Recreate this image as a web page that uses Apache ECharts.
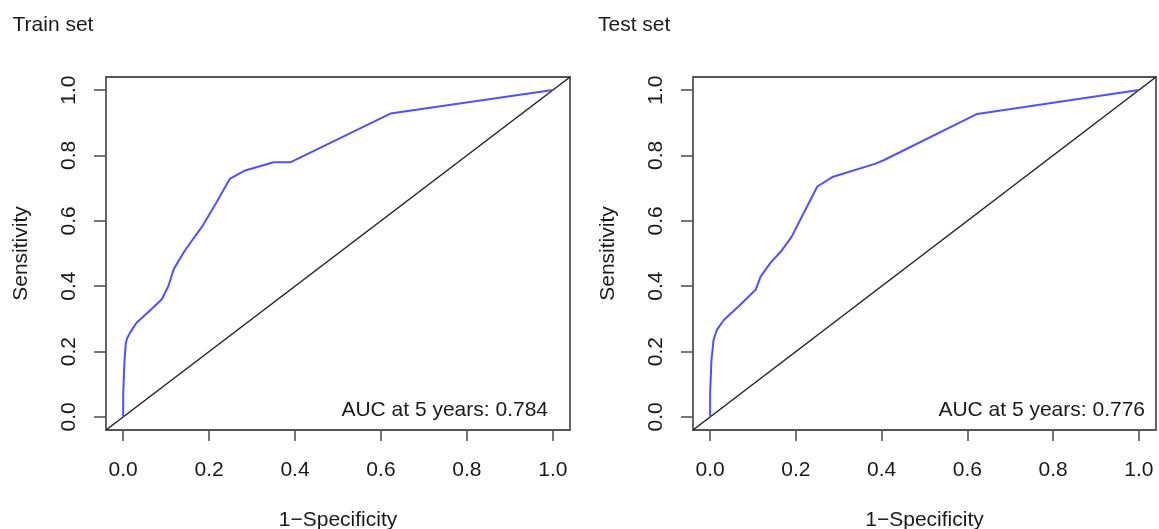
<!DOCTYPE html>
<html>
<head>
<meta charset="utf-8">
<script src="https://cdn.jsdelivr.net/npm/echarts@6/dist/echarts.min.js"></script>
<style>
html,body{margin:0;padding:0;background:#fff;}
#chart{width:1159px;height:529px;}
</style>
</head>
<body>
<div id="chart"></div>
<script>
// ---- data ----
const panelTitles = ['Train set', 'Test set'];
const aucLabels = ['AUC at 5 years: 0.784', 'AUC at 5 years: 0.776'];
const xAxisName = '1\u2212Specificity';
const yAxisName = 'Sensitivity';
const tickValues = [0, 0.2, 0.4, 0.6, 0.8, 1.0];

const trainFPR = [0, 0, 0.003, 0.006, 0.009, 0.016, 0.031, 0.058, 0.090, 0.105, 0.118, 0.144, 0.186, 0.218, 0.248, 0.284, 0.350, 0.389, 0.622, 1];
const trainTPR = [0, 0.07, 0.17, 0.225, 0.240, 0.258, 0.288, 0.320, 0.360, 0.400, 0.453, 0.510, 0.587, 0.658, 0.728, 0.754, 0.779, 0.779, 0.928, 1];

const testFPR = [0, 0, 0.003, 0.008, 0.016, 0.033, 0.068, 0.106, 0.118, 0.141, 0.165, 0.190, 0.212, 0.250, 0.287, 0.386, 0.406, 0.623, 1];
const testTPR = [0, 0.072, 0.173, 0.236, 0.267, 0.298, 0.340, 0.389, 0.430, 0.472, 0.506, 0.551, 0.608, 0.705, 0.735, 0.775, 0.786, 0.927, 1];

const diagLine = [-0.04, 1.04];   // y = x reference line across the plot region

// ---- build ----
const zip = (a, b) => a.map((v, i) => [v, b[i]]);
const FONT = 'Liberation Sans, Arial, sans-serif';
const FS = 21;
const TXT = '#1a1a1a';

function xAx(gi) {
  return {
    type: 'value', gridIndex: gi, min: -0.04, max: 1.04,
    name: xAxisName, nameLocation: 'middle', nameGap: 80,
    nameTextStyle: {fontFamily: FONT, fontSize: FS, color: TXT},
    axisLine: {show: false, onZero: false},
    axisTick: {show: true, customValues: tickValues, length: 11, inside: false,
               lineStyle: {color: '#555', width: 1.6}},
    axisLabel: {show: true, customValues: tickValues, margin: 30,
                fontFamily: FONT, fontSize: FS, color: TXT,
                formatter: v => v.toFixed(1)},
    splitLine: {show: false}
  };
}
function yAx(gi) {
  return {
    type: 'value', gridIndex: gi, min: -0.04, max: 1.04,
    name: yAxisName, nameLocation: 'middle', nameGap: 74,
    nameTextStyle: {fontFamily: FONT, fontSize: FS, color: TXT},
    axisLine: {show: false, onZero: false},
    axisTick: {show: true, customValues: tickValues, length: 12, inside: false,
               lineStyle: {color: '#555', width: 1.6}},
    axisLabel: {show: true, customValues: tickValues, margin: 26, rotate: 90,
                fontFamily: FONT, fontSize: FS, color: TXT,
                formatter: v => v.toFixed(1)},
    splitLine: {show: false}
  };
}
function diag(gi) {
  return {
    type: 'line', xAxisIndex: gi, yAxisIndex: gi, data: zip(diagLine, diagLine),
    symbol: 'none', silent: true, z: 2,
    lineStyle: {color: '#222', width: 1.5}
  };
}
function roc(gi, xs, ys) {
  return {
    type: 'line', xAxisIndex: gi, yAxisIndex: gi, data: zip(xs, ys),
    symbol: 'none', z: 3,
    lineStyle: {color: '#5050ff', width: 2}
  };
}

const gridBase = {top: 77, height: 353, show: true, borderColor: '#555', borderWidth: 1.8,
                  backgroundColor: 'transparent', containLabel: false, outerBoundsMode: 'none'};

const chart = echarts.init(document.getElementById('chart'), null, {renderer: 'canvas'});
chart.setOption({
  animation: false,
  backgroundColor: '#fff',
  grid: [
    Object.assign({left: 106, width: 464}, gridBase),
    Object.assign({left: 693, width: 463}, gridBase)
  ],
  xAxis: [xAx(0), xAx(1)],
  yAxis: [yAx(0), yAx(1)],
  series: [diag(0), roc(0, trainFPR, trainTPR), diag(1), roc(1, testFPR, testTPR)],
  graphic: [
    {type: 'text', x: 12.5, y: 25, style: {text: panelTitles[0], font: FS + 'px ' + FONT, fill: TXT, align: 'left', verticalAlign: 'middle'}},
    {type: 'text', x: 598, y: 25, style: {text: panelTitles[1], font: FS + 'px ' + FONT, fill: TXT, align: 'left', verticalAlign: 'middle'}},
    {type: 'text', x: 548, y: 410, style: {text: aucLabels[0], font: FS + 'px ' + FONT, fill: TXT, align: 'right', verticalAlign: 'middle'}},
    {type: 'text', x: 1145, y: 410, style: {text: aucLabels[1], font: FS + 'px ' + FONT, fill: TXT, align: 'right', verticalAlign: 'middle'}}
  ]
});
</script>
</body>
</html>
